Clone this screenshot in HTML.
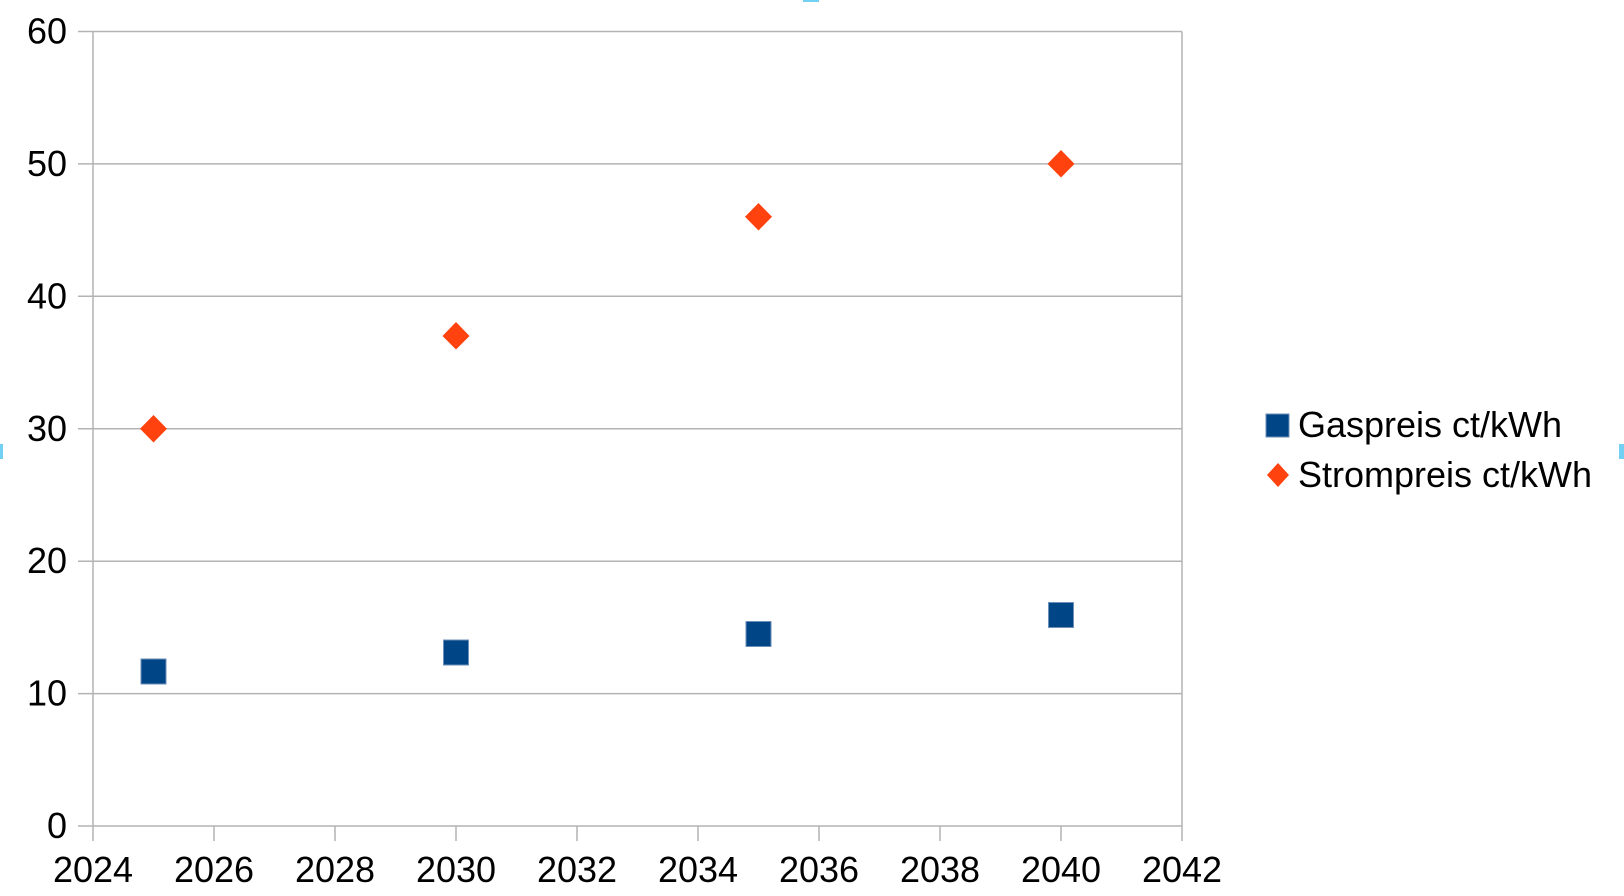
<!DOCTYPE html>
<html><head><style>body{margin:0;background:#fff}svg{display:block}text{font-family:"Liberation Sans",sans-serif;fill:#000}</style></head>
<body>
<svg width="1624" height="896" viewBox="0 0 1624 896">
<g stroke="#b3b3b3" stroke-width="1.5" fill="none">
<line x1="78" y1="826" x2="1182" y2="826"/>
<line x1="78" y1="693.6" x2="1182" y2="693.6"/>
<line x1="78" y1="561.2" x2="1182" y2="561.2"/>
<line x1="78" y1="428.8" x2="1182" y2="428.8"/>
<line x1="78" y1="296.3" x2="1182" y2="296.3"/>
<line x1="78" y1="163.9" x2="1182" y2="163.9"/>
<line x1="78" y1="31.5" x2="1182" y2="31.5"/>
<line x1="93" y1="31.5" x2="93" y2="841"/>
<line x1="1182" y1="31.5" x2="1182" y2="841"/>
<line x1="214" y1="826" x2="214" y2="841"/>
<line x1="335" y1="826" x2="335" y2="841"/>
<line x1="456" y1="826" x2="456" y2="841"/>
<line x1="577" y1="826" x2="577" y2="841"/>
<line x1="698" y1="826" x2="698" y2="841"/>
<line x1="819" y1="826" x2="819" y2="841"/>
<line x1="940" y1="826" x2="940" y2="841"/>
<line x1="1061" y1="826" x2="1061" y2="841"/>
</g>
<g font-size="36" text-anchor="end">
<text x="67" y="838">0</text><text x="67" y="705.6">10</text><text x="67" y="573.2">20</text><text x="67" y="440.8">30</text><text x="67" y="308.3">40</text><text x="67" y="175.9">50</text><text x="67" y="43.5">60</text>
</g>
<g font-size="36" text-anchor="middle">
<text x="93" y="882">2024</text><text x="214" y="882">2026</text><text x="335" y="882">2028</text><text x="456" y="882">2030</text><text x="577" y="882">2032</text><text x="698" y="882">2034</text><text x="819" y="882">2036</text><text x="940" y="882">2038</text><text x="1061" y="882">2040</text><text x="1182" y="882">2042</text>
</g>
<g fill="#004586" stroke="#6d8fb8" stroke-width="1">
<rect x="141" y="659" width="25" height="25"/>
<rect x="443.5" y="640" width="25" height="25"/>
<rect x="746" y="621.5" width="25" height="25"/>
<rect x="1048.5" y="602.5" width="25" height="25"/>
<rect x="1266" y="414" width="23" height="23"/>
</g>
<g fill="#ff420e">
<polygon points="153.5,415 167,428.8 153.5,442.5 140,428.8"/>
<polygon points="456,322 469.5,336 456,349.5 442.5,336"/>
<polygon points="758.5,203 772,216.8 758.5,230.5 745,216.8"/>
<polygon points="1061,150 1074.5,163.9 1061,177.5 1047.5,163.9"/>
<polygon points="1278,463 1289,475 1278,487 1267,475"/>
</g>
<g font-size="36">
<text x="1298" y="437">Gaspreis ct/kWh</text>
<text x="1298" y="487">Strompreis ct/kWh</text>
</g>
<g fill="#72d0f5">
<rect x="803" y="0" width="16" height="2"/>
<rect x="0" y="444" width="3" height="15"/>
<rect x="1619" y="444" width="5" height="15"/>
</g>
</svg>
</body></html>
